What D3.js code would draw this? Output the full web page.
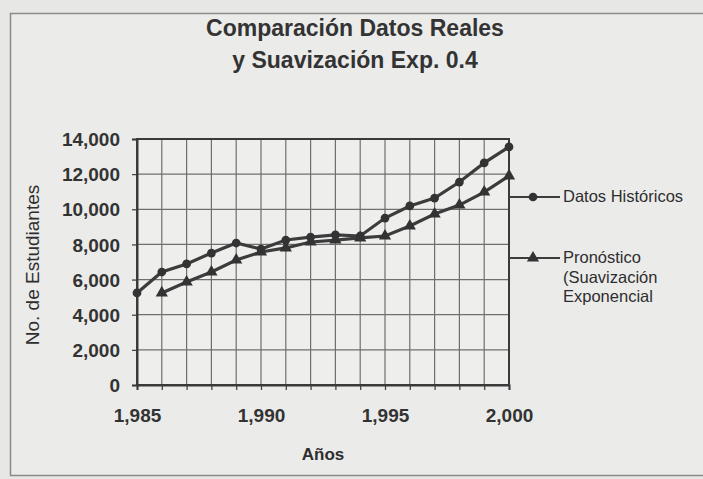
<!DOCTYPE html>
<html>
<head>
<meta charset="utf-8">
<script src="https://cdn.jsdelivr.net/npm/d3@7"></script>
<style>
  body { margin: 0; background: #e7e7e5; }
  svg text { font-family: "Liberation Sans", Arial, sans-serif; fill: #2e2e2e; }
</style>
</head>
<body>
<div id="viz"></div>
<script>
var width = 703;
var height = 479;

// data
var years = [1985, 1986, 1987, 1988, 1989, 1990, 1991, 1992, 1993, 1994, 1995, 1996, 1997, 1998, 1999, 2000];
var historicos = [5240, 6430, 6890, 7510, 8080, 7740, 8250, 8420, 8540, 8480, 9500, 10190, 10640, 11550, 12640, 13550];
// pronostico starts in 1986
var pronostico = [null, 5240, 5860, 6430, 7110, 7570, 7800, 8140, 8250, 8370, 8480, 9050, 9730, 10240, 10980, 11900];
var yTicks = [0, 2000, 4000, 6000, 8000, 10000, 12000, 14000];
var xTicks = [1985, 1990, 1995, 2000];
var titleLines = ["Comparación Datos Reales", "y Suavización Exp. 0.4"];
var legendLabels = [["Datos Históricos"], ["Pronóstico", "(Suavización", "Exponencial"]];

var margin = {left: 137, top: 139, right: 703 - 509, bottom: 479 - 385};
var plotW = width - margin.left - margin.right;
var plotH = height - margin.top - margin.bottom;

var svg = d3.select("#viz").append("svg")
  .attr("width", width)
  .attr("height", height);

// outer frame
svg.append("rect")
  .attr("x", 10.5).attr("y", 13.5)
  .attr("width", 700).attr("height", 462)
  .attr("fill", "#ebebea")
  .attr("stroke", "#8a8a8a")
  .attr("stroke-width", 1.5);

// title
svg.append("g").selectAll("text")
  .data(titleLines)
  .enter().append("text")
  .attr("x", 355)
  .attr("y", function(d, i) { return 36 + i * 32; })
  .attr("text-anchor", "middle")
  .style("font-size", "23px")
  .style("font-weight", "bold")
  .style("fill", "#333")
  .text(function(d) { return d; });

var x = d3.scaleLinear().domain([1985, 2000]).range([0, plotW]);
var y = d3.scaleLinear().domain([0, 14000]).range([plotH, 0]);

var g = svg.append("g")
  .attr("transform", "translate(" + margin.left + "," + margin.top + ")");

g.append("rect")
  .attr("width", plotW).attr("height", plotH)
  .attr("fill", "#eeeeec");

// grid lines
g.append("g").selectAll("line")
  .data(years)
  .enter().append("line")
  .attr("x1", function(d) { return x(d); })
  .attr("x2", function(d) { return x(d); })
  .attr("y1", 0).attr("y2", plotH)
  .attr("stroke", "#6f6f6f")
  .attr("stroke-width", 1.2);

g.append("g").selectAll("line")
  .data(yTicks)
  .enter().append("line")
  .attr("x1", 0).attr("x2", plotW)
  .attr("y1", function(d) { return y(d); })
  .attr("y2", function(d) { return y(d); })
  .attr("stroke", "#6f6f6f")
  .attr("stroke-width", 1.2);

// plot border
g.append("rect")
  .attr("width", plotW).attr("height", plotH)
  .attr("fill", "none")
  .attr("stroke", "#3a3a3a")
  .attr("stroke-width", 2);

// axes
var yAxis = g.append("g")
  .call(d3.axisLeft(y).tickValues(yTicks).tickSize(5).tickPadding(12).tickFormat(d3.format(",")));
var xAxis = g.append("g")
  .attr("transform", "translate(0," + plotH + ")")
  .call(d3.axisBottom(x).tickValues(years).tickSize(5).tickPadding(12)
    .tickFormat(function(d) { return xTicks.indexOf(d) >= 0 ? d3.format(",")(d) : ""; }));

[yAxis, xAxis].forEach(function(a) {
  a.select(".domain").attr("stroke", "#3a3a3a").attr("stroke-width", 2);
  a.selectAll(".tick line").attr("stroke", "#3a3a3a").attr("stroke-width", 1.2);
  a.selectAll("text")
    .style("font-family", "'Liberation Sans', Arial, sans-serif")
    .style("font-size", "19px")
    .style("font-weight", "bold")
    .style("fill", "#333");
});
yAxis.selectAll("text").attr("dy", "0.35em");
xAxis.selectAll("text").attr("dy", "1.05em");

// axis titles
svg.append("text")
  .attr("x", 323).attr("y", 460)
  .attr("text-anchor", "middle")
  .style("font-size", "17px")
  .style("font-weight", "bold")
  .text("Años");

svg.append("text")
  .attr("transform", "translate(39,265) rotate(-90)")
  .attr("text-anchor", "middle")
  .style("font-size", "19px")
  .text("No. de Estudiantes");

// series
var line = d3.line()
  .defined(function(d) { return d[1] != null; })
  .x(function(d) { return x(d[0]); })
  .y(function(d) { return y(d[1]); });

var histData = years.map(function(d, i) { return [d, historicos[i]]; });
var pronData = years.map(function(d, i) { return [d, pronostico[i]]; }).filter(function(d) { return d[1] != null; });

var lineColor = "#3c3c3c";

g.append("path").datum(pronData)
  .attr("d", line).attr("fill", "none")
  .attr("stroke", lineColor).attr("stroke-width", 3.2);
g.append("path").datum(histData)
  .attr("d", line).attr("fill", "none")
  .attr("stroke", lineColor).attr("stroke-width", 3.2);

var circleSym = d3.symbol().type(d3.symbolCircle).size(60);
var triSym = d3.symbol().type(d3.symbolTriangle).size(65);

g.append("g").selectAll("path")
  .data(histData)
  .enter().append("path")
  .attr("d", circleSym)
  .attr("transform", function(d) { return "translate(" + x(d[0]) + "," + y(d[1]) + ")"; })
  .attr("fill", "#333");

g.append("g").selectAll("path")
  .data(pronData)
  .enter().append("path")
  .attr("d", triSym)
  .attr("transform", function(d) { return "translate(" + x(d[0]) + "," + y(d[1]) + ")"; })
  .attr("fill", "#333");

// legend
var legendY = [197, 258];
var legend = svg.append("g");
legendLabels.forEach(function(lines, i) {
  var ly = legendY[i];
  legend.append("line")
    .attr("x1", 508).attr("x2", 560)
    .attr("y1", ly).attr("y2", ly)
    .attr("stroke", lineColor).attr("stroke-width", 2);
  legend.append("path")
    .attr("d", i == 0 ? circleSym : triSym)
    .attr("transform", "translate(533," + ly + ")")
    .attr("fill", "#333");
  lines.forEach(function(t, j) {
    legend.append("text")
      .attr("x", 563)
      .attr("y", ly + 5 + j * 19.5)
      .style("font-size", "16.5px")
      .text(t);
  });
});
</script>
</body>
</html>
